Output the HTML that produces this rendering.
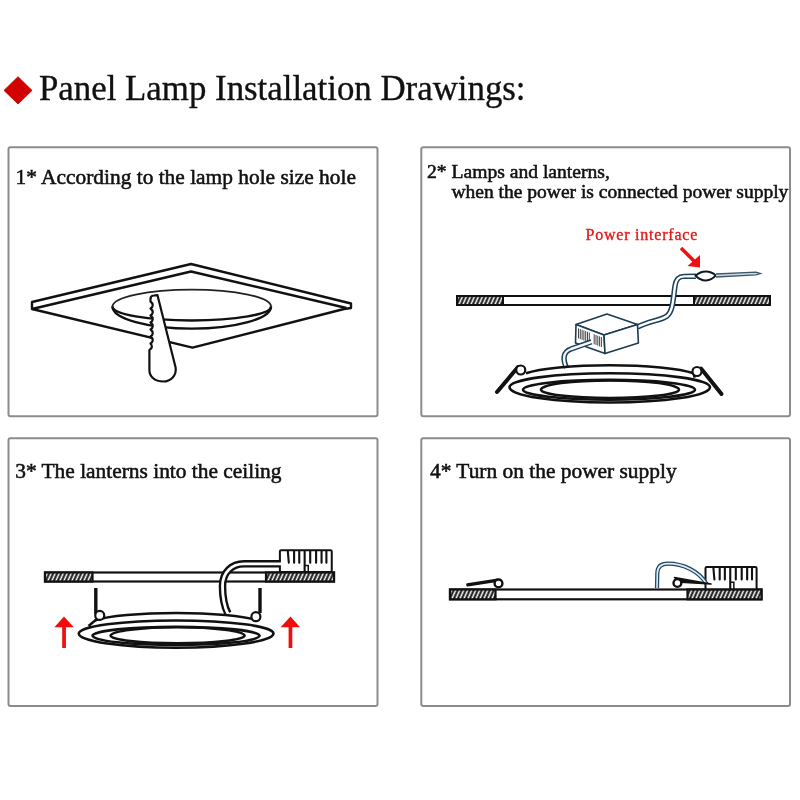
<!DOCTYPE html>
<html><head><meta charset="utf-8">
<style>
html,body{margin:0;padding:0;background:#fff;width:800px;height:800px;overflow:hidden}
svg{display:block;will-change:transform}
text{font-family:"Liberation Serif",serif;fill:#111;stroke:#111;stroke-width:0.55px}
</style></head>
<body>
<svg width="800" height="800" viewBox="0 0 800 800">
<defs>
<pattern id="hatch" patternUnits="userSpaceOnUse" width="4" height="20" patternTransform="skewX(-24)">
<rect width="4" height="20" fill="#111"/>
<rect x="1.6" width="1.75" height="20" fill="#fff"/>
</pattern>
</defs>

<!-- title -->
<polygon points="18,76.7 32,90.4 18,104 4,90.4" fill="#d20000" stroke="#b00000" stroke-width="0.8"/>
<text x="39" y="99.5" font-size="34.85" style="stroke-width:0.35px">Panel Lamp Installation Drawings:</text>

<!-- boxes -->
<g fill="none" stroke="#8c8c8c" stroke-width="2">
<rect x="8.5" y="147.3" width="369" height="269" rx="2"/>
<rect x="421.3" y="147.3" width="368.7" height="269" rx="2"/>
<rect x="8.5" y="438.2" width="369" height="267.8" rx="2"/>
<rect x="421.3" y="438.2" width="368.7" height="267.8" rx="2"/>
</g>

<!-- headings -->
<text x="15.5" y="183.5" font-size="21.4">1* According to the lamp hole size hole</text>
<text x="427" y="178" font-size="19.6">2* Lamps and lanterns,</text>
<text x="451.5" y="198" font-size="19.5">when the power is connected power supply</text>
<text x="15.2" y="478" font-size="21.4">3* The lanterns into the ceiling</text>
<text x="430" y="478" font-size="21.4">4* Turn on the power supply</text>


<!-- PANEL 1 -->
<g stroke="#111" stroke-width="2.4" fill="none" stroke-linejoin="round">
<path d="M32,302 L191,264 L351,303.5 L351,308 L344,309 L192.5,347.6 L32,309 Z" fill="#fff"/>
<path d="M32,309 L191,271.5 L346.5,308"/>
<path d="M112.5,306.5 A79,16.9 0 0 1 271,306.5" stroke="#222" stroke-width="1.8"/>
<path d="M112.5,306.5 A79,14 0 0 0 271,306.5"/>
<path d="M112.5,306.5 A79,22.1 0 0 0 271,306.5"/>
</g>
<path d="M150.5,299 C150.5,296.5 152,295.5 154,295.5 L157.5,295.2 L175.6,367.5 C177,376 170,381.5 163.5,381.5 C154,381.5 149.4,376 149.4,370 L149.4,350 C152,348 153,346.5 150.5,343.5 C153,342 154,339 150.5,336.5 C153,335 154,332 150.5,329.5 C153,328 154,325 150.5,322.5 C153,321 154,318 150.5,315.5 C153,314 154,311 150.5,308.5 C153,307 154,304 150.5,301.5 Z" fill="#fff" stroke="#111" stroke-width="2.2" stroke-linejoin="round"/>


<!-- PANEL 2 -->
<g stroke="#111" stroke-width="2">
<rect x="457" y="296" width="313" height="9" fill="#fff"/>
<rect x="457" y="296" width="46" height="9" fill="url(#hatch)"/>
<rect x="694" y="296" width="76" height="9" fill="url(#hatch)"/>
</g>
<!-- wire up -->
<g fill="none" stroke-linecap="butt">
<path d="M637.5,327 C649,321 661,320.5 667,316 C673,311 673,300 675,286 C676,279 678.5,276.5 684,276.4 L696,276.2" stroke="#1c3f58" stroke-width="5.4"/>
<path d="M637,327.3 C649,321 661,320.5 667,316 C673,311 673,300 675,286 C676,279 678.5,276.5 684,276.4 L696.5,276.2" stroke="#fff" stroke-width="2.4"/>
</g>
<path d="M695.6,275.7 C702,270 710,270.5 715.8,275.4 C710,282 702,282 695.6,275.7 Z" fill="#fff" stroke="#0c1a26" stroke-width="2"/>
<path d="M716,274 L756,272.2 L760.5,273.6 L756,274.9 L716,277" fill="#cfd8de" stroke="#3e5a6e" stroke-width="1.3"/>
<!-- power box -->
<g stroke="#1e3a4e" stroke-width="1.6" fill="#fff" stroke-linejoin="round">
<path d="M576,324.5 L607,314 L637.5,324.5 L604,335 Z"/>
<path d="M576,324.5 L575.5,343 L605,353.4 L604,335 Z"/>
<path d="M604,335 L637.5,324.5 L638.4,343 L605,353.4 Z"/>
</g>
<g stroke="#444" stroke-width="1">
<path d="M578.5,328.4 v10 M580.3,329.1 v10 M582.1,329.8 v10 M583.9,330.5 v10 M585.7,331.1 v10 M587.5,331.8 v10 M589.3,332.5 v10 M594.2,334.3 v10 M596,335.0 v10 M597.8,335.7 v10 M599.6,336.4 v10 M601.4,337.0 v10"/>
</g>
<path d="M566.5,367.5 C562.5,359 563,352 571,349 L591.5,341.8" fill="none" stroke="#1c3f58" stroke-width="5.4"/>
<path d="M566.5,368.5 C562.5,359 563,352 571,349 L592.5,341.6" fill="none" stroke="#f4f6f8" stroke-width="2.4"/>
<text x="585.5" y="240" font-size="16" letter-spacing="0.78" style="fill:#e01818;stroke:#e01818;stroke-width:0.35px">Power interface</text>
<line x1="681" y1="248" x2="694" y2="261" stroke="#f01010" stroke-width="3.5"/>
<polygon points="700,267.5 687.5,266 700,255" fill="#f01010"/>


<!-- lamp 2 -->
<path d="M526,373.24 A90,12.6 0 0 1 693.5,373.24 L694.75,377.65" fill="none" stroke="#111" stroke-width="2.6"/>
<path d="M509.5,387.25 A100.25,14 0 0 1 710,387.25 A100.25,15.3 0 0 1 509.5,387.25 Z" fill="#fff" stroke="#111" stroke-width="2.6"/>
<path d="M523,389.65 A86,9.8 0 0 1 695,389.65 A86,10.1 0 0 1 523,389.65 Z" fill="none" stroke="#111" stroke-width="2.6"/>
<path d="M541,389.65 A69,9.3 0 0 1 679,389.65 A69,8.3 0 0 1 541,389.65 Z" fill="none" stroke="#111" stroke-width="2.6"/>
<!-- clips 2 -->
<g stroke="#111" fill="#fff">
<line x1="497" y1="392" x2="518" y2="367" stroke-width="4" stroke-linecap="round"/>
<circle cx="520.75" cy="370" r="4.5" stroke-width="2.2"/>
<line x1="701" y1="368.5" x2="721.5" y2="394" stroke-width="4" stroke-linecap="round"/>
<circle cx="697" cy="371.5" r="4.5" stroke-width="2.2"/>
</g>

<!-- PANEL 3 -->
<g stroke="#111" stroke-width="2.2">
<rect x="45" y="572.5" width="289" height="9" fill="#fff"/>
<rect x="45" y="572.5" width="47.5" height="9" fill="url(#hatch)"/>
<rect x="266" y="572.5" width="68" height="9" fill="url(#hatch)"/>
</g>
<rect x="279.9" y="550.2" width="51.85" height="21.8" rx="1.2" fill="#fff" stroke="#111" stroke-width="2"/>
<path d="M287.8,551.2 L288.8,562.7 M294.1,551.2 L294.1,562.7 M299.25,551.2 L299.25,562.7 M304.65,551.2 L304.65,572 M310.2,551.2 L310.2,562.7 M316.1,551.2 L316.1,562.7 M321.55,551.2 L321.55,562.7 M326.4,551.2 L326.4,562.7" fill="none" stroke="#111" stroke-width="2.1" stroke-linecap="round"/>
<path d="M304.65,565.4 L308.25,565.4 L308.25,572" fill="none" stroke="#111" stroke-width="1.5"/>
<path d="M279,563.8 L244,563.8 C232,563.8 222.5,572 222.5,586 C222.5,597 224,606 228,613.5" fill="none" stroke="#111" stroke-width="7.6"/>
<path d="M281,563.8 L244,563.8 C232,563.8 222.5,572 222.5,586 C222.5,597 224,606 228,614" fill="none" stroke="#fff" stroke-width="2.8"/>
<g stroke="#111" stroke-width="3.4">
<line x1="95.8" y1="588" x2="95.8" y2="614"/>
<line x1="260" y1="588" x2="260" y2="613"/>
</g>

<!-- lamp 3 -->
<path d="M94.78,620.47 A87.39,11.72 0 0 1 257.42,620.47" fill="none" stroke="#111" stroke-width="2.6"/>
<path d="M78.76,633.5 A97.34,13.02 0 0 1 273.44,633.5 A97.34,14.23 0 0 1 78.76,633.5 Z" fill="#fff" stroke="#111" stroke-width="2.6"/>
<path d="M92.55,635.73 A83.51,9.11 0 0 1 259.56,635.73 A83.51,9.39 0 0 1 92.55,635.73 Z" fill="none" stroke="#111" stroke-width="2.6"/>
<path d="M110.61,635.73 A67,8.65 0 0 1 244.6,635.73 A67,7.72 0 0 1 110.61,635.73 Z" fill="none" stroke="#111" stroke-width="2.6"/>
<path d="M97,619 L88.5,626" stroke="#111" stroke-width="2.4"/>
<g stroke="#111" fill="#fff" stroke-width="2.2">
<circle cx="99.75" cy="615.4" r="4.5"/>
<circle cx="255.9" cy="616.7" r="4.5"/>
</g>
<g fill="#f20c0c">
<polygon points="64,616.5 54.4,627.2 73.8,627.2"/>
<rect x="62.2" y="627" width="3.7" height="21"/>
<polygon points="290.5,616.5 280.6,627.2 300,627.2"/>
<rect x="288.6" y="627" width="3.7" height="21"/>
</g>


<!-- PANEL 4 -->
<g stroke="#111" stroke-width="2.2">
<rect x="450" y="589.5" width="311.5" height="9.8" fill="#fff"/>
<rect x="450" y="589.5" width="45.5" height="9.8" fill="url(#hatch)"/>
<rect x="687.5" y="589.5" width="74" height="9.8" fill="url(#hatch)"/>
</g>
<rect x="705.5" y="567" width="51.1" height="22.3" rx="1.2" fill="#fff" stroke="#111" stroke-width="2"/>
<path d="M713.4,568 L714.4,579.5 M719.7,568 L719.7,579.5 M724.85,568 L724.85,579.5 M730.25,568 L730.25,589.3 M735.8,568 L735.8,579.5 M741.7,568 L741.7,579.5 M747.15,568 L747.15,579.5 M752,568 L752,579.5" fill="none" stroke="#111" stroke-width="2.1" stroke-linecap="round"/>
<path d="M730.25,582.2 L733.85,582.2 L733.85,589.3" fill="none" stroke="#111" stroke-width="1.5"/>
<path d="M467,583.2 L497.5,578.4 L497,582 L468,586.6 C466,586.8 465.6,583.6 467,583.2 Z" fill="#111"/>
<circle cx="498.5" cy="583.4" r="3.9" fill="#fff" stroke="#111" stroke-width="2.4"/>
<path d="M657,588 L657.3,573 C657.5,567 661,563.6 668,563.6 C683,563.6 699,571 706.5,584" fill="none" stroke="#1d4a66" stroke-width="4.2"/>
<path d="M657,588 L657.3,573 C657.5,567 661,563.6 668,563.6 C683,563.6 699,571 706.5,584" fill="none" stroke="#e4eaee" stroke-width="1.6"/>
<path d="M674.5,577.6 L711,584 L681,582.2 Z" fill="#111" stroke="#111" stroke-width="1.6" stroke-linejoin="round"/>
<circle cx="677.4" cy="583" r="3.9" fill="#fff" stroke="#111" stroke-width="2.4"/>

</svg>
</body></html>
